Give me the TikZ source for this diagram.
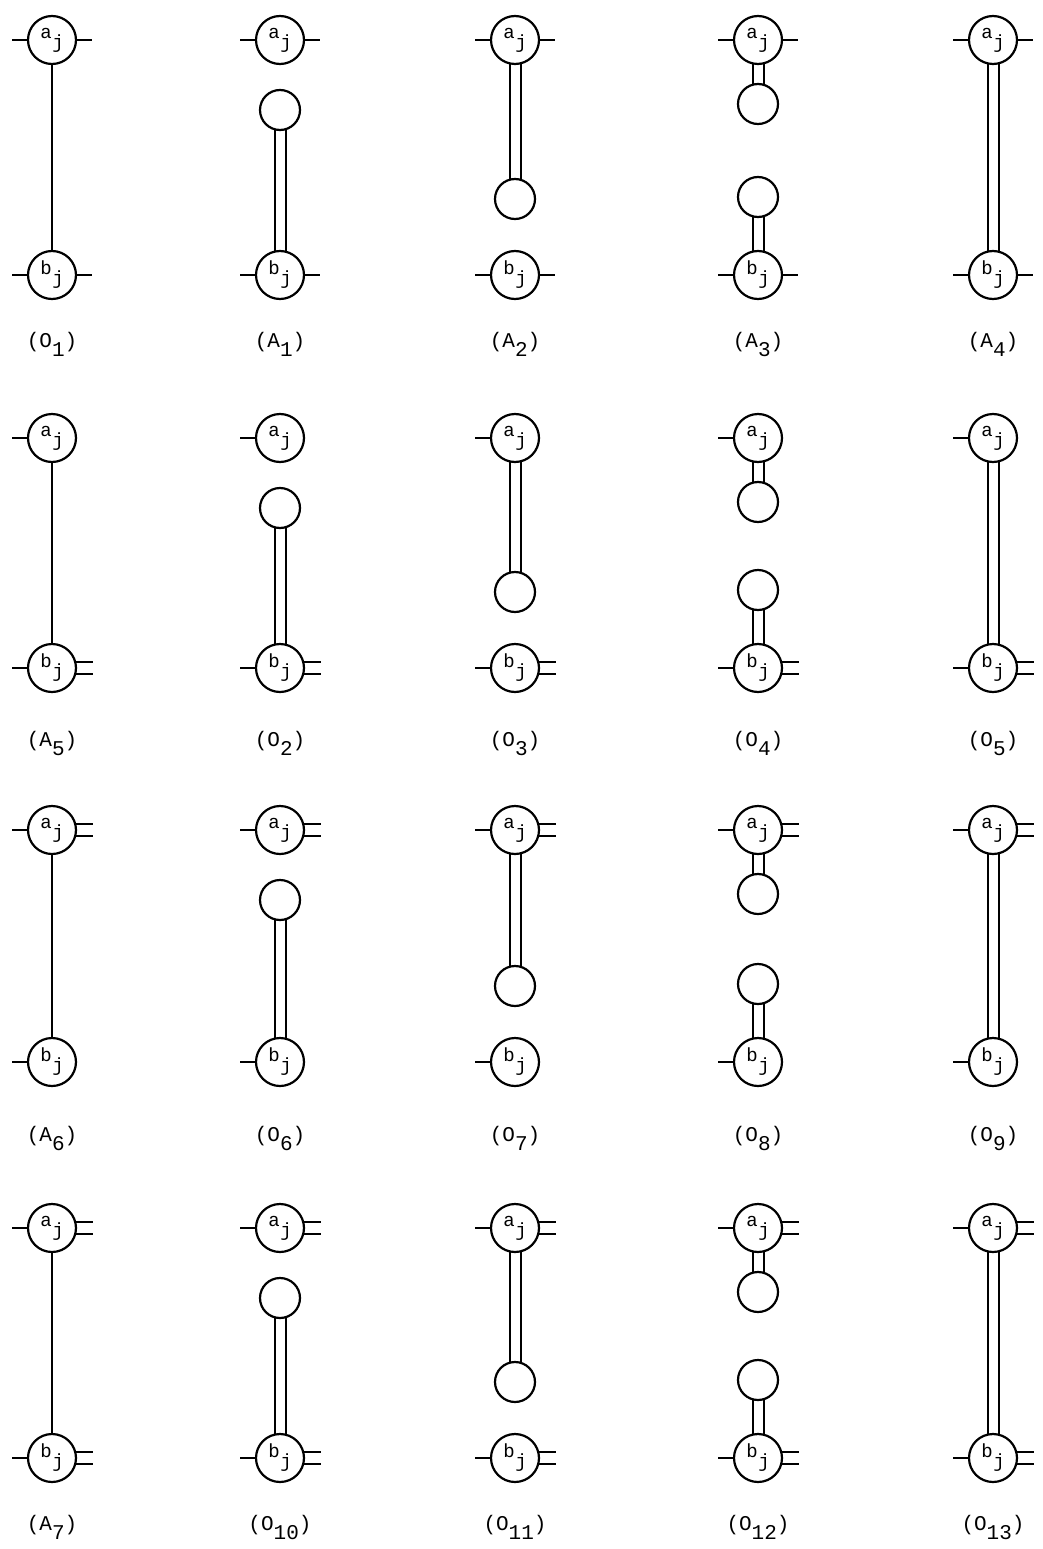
\documentclass[tikz,border=0pt]{standalone}
\usepackage{fontspec}
\newfontfamily\tw{Liberation Mono}
\pgfdeclarelayer{bg}
\pgfsetlayers{bg,main}
\tikzset{
  big/.style={circle,draw,line width=2.2pt,minimum size=48pt,inner sep=0pt,fill=white,
    font=\tw\fontsize{19}{19}\selectfont},
  small/.style={circle,draw,line width=2.2pt,minimum size=40pt,inner sep=0pt,fill=white},
  rod/.style={draw,double distance=9pt,line width=2pt},
  thinline/.style={draw,line width=1.5pt},
  tick/.style={draw,line width=1.7pt},
  lab/.style={font=\tw\fontsize{21}{21}\selectfont,anchor=base,inner sep=0pt}
}
\newcommand\sbx[2]{\raisebox{0.3ex}{#1}\kern0.5pt\raisebox{-0.7ex}{#2}}
\newcommand\lsub[2]{(#1\raisebox{-0.45em}{#2})}
\begin{document}
\begin{tikzpicture}[x=1pt,y=-1pt]
\useasboundingbox (0,0) rectangle (1043,1549);
\foreach \r/\ay/\by/\at/\bt in {1/40/275/1/1, 2/438/668/0/2, 3/830/1062/2/0, 4/1228/1458/2/2}{
  \foreach \c/\cx in {1/52,2/280,3/515,4/758,5/993}{
    \node[big] (a-\r-\c) at (\cx,\ay) {\sbx{a}{j}};
    \node[big] (b-\r-\c) at (\cx,\by) {\sbx{b}{j}};
    \draw[tick] (a-\r-\c.west) -- ++(-15,0);
    \draw[tick] (b-\r-\c.west) -- ++(-15,0);
    \ifcase\at
    \or \draw[tick] (a-\r-\c.east) -- ++(15,0);
    \or \draw[tick] (a-\r-\c.14) -- ++(17,0); \draw[tick] (a-\r-\c.346) -- ++(17,0);
    \fi
    \ifcase\bt
    \or \draw[tick] (b-\r-\c.east) -- ++(15,0);
    \or \draw[tick] (b-\r-\c.14) -- ++(17,0); \draw[tick] (b-\r-\c.346) -- ++(17,0);
    \fi
  }
  % column 1
  \draw[thinline] (a-\r-1) -- (b-\r-1);
  % column 2
  \node[small] (s-\r-2) at (280,{\ay+70}) {};
  % column 3
  \node[small] (s-\r-3) at (515,{\by-76}) {};
  % column 4
  \node[small] (u-\r-4) at (758,{\ay+64}) {};
  \node[small] (l-\r-4) at (758,{\by-78}) {};
  \begin{pgfonlayer}{bg}
    \draw[rod] (s-\r-2.center) -- (b-\r-2.center);
    \draw[rod] (a-\r-3.center) -- (s-\r-3.center);
    \draw[rod] (a-\r-4.center) -- (u-\r-4.center);
    \draw[rod] (l-\r-4.center) -- (b-\r-4.center);
    \draw[rod] (a-\r-5.center) -- (b-\r-5.center);
  \end{pgfonlayer}
}
% labels
\foreach \n/\x/\y/\L/\s in {
  l11/52/347/O/1, l12/280/347/A/1, l13/515/347/A/2, l14/758/347/A/3, l15/993/347/A/4,
  l21/52/746/A/5, l22/280/746/O/2, l23/515/746/O/3, l24/758/746/O/4, l25/993/746/O/5,
  l31/52/1141/A/6, l32/280/1141/O/6, l33/515/1141/O/7, l34/758/1141/O/8, l35/993/1141/O/9,
  l41/52/1530/A/7, l42/280/1530/O/10, l43/515/1530/O/11, l44/758/1530/O/12, l45/993/1530/O/13}{
  \node[lab] (\n) at (\x,\y) {\lsub{\L}{\s}};
}
\end{tikzpicture}
\end{document}
